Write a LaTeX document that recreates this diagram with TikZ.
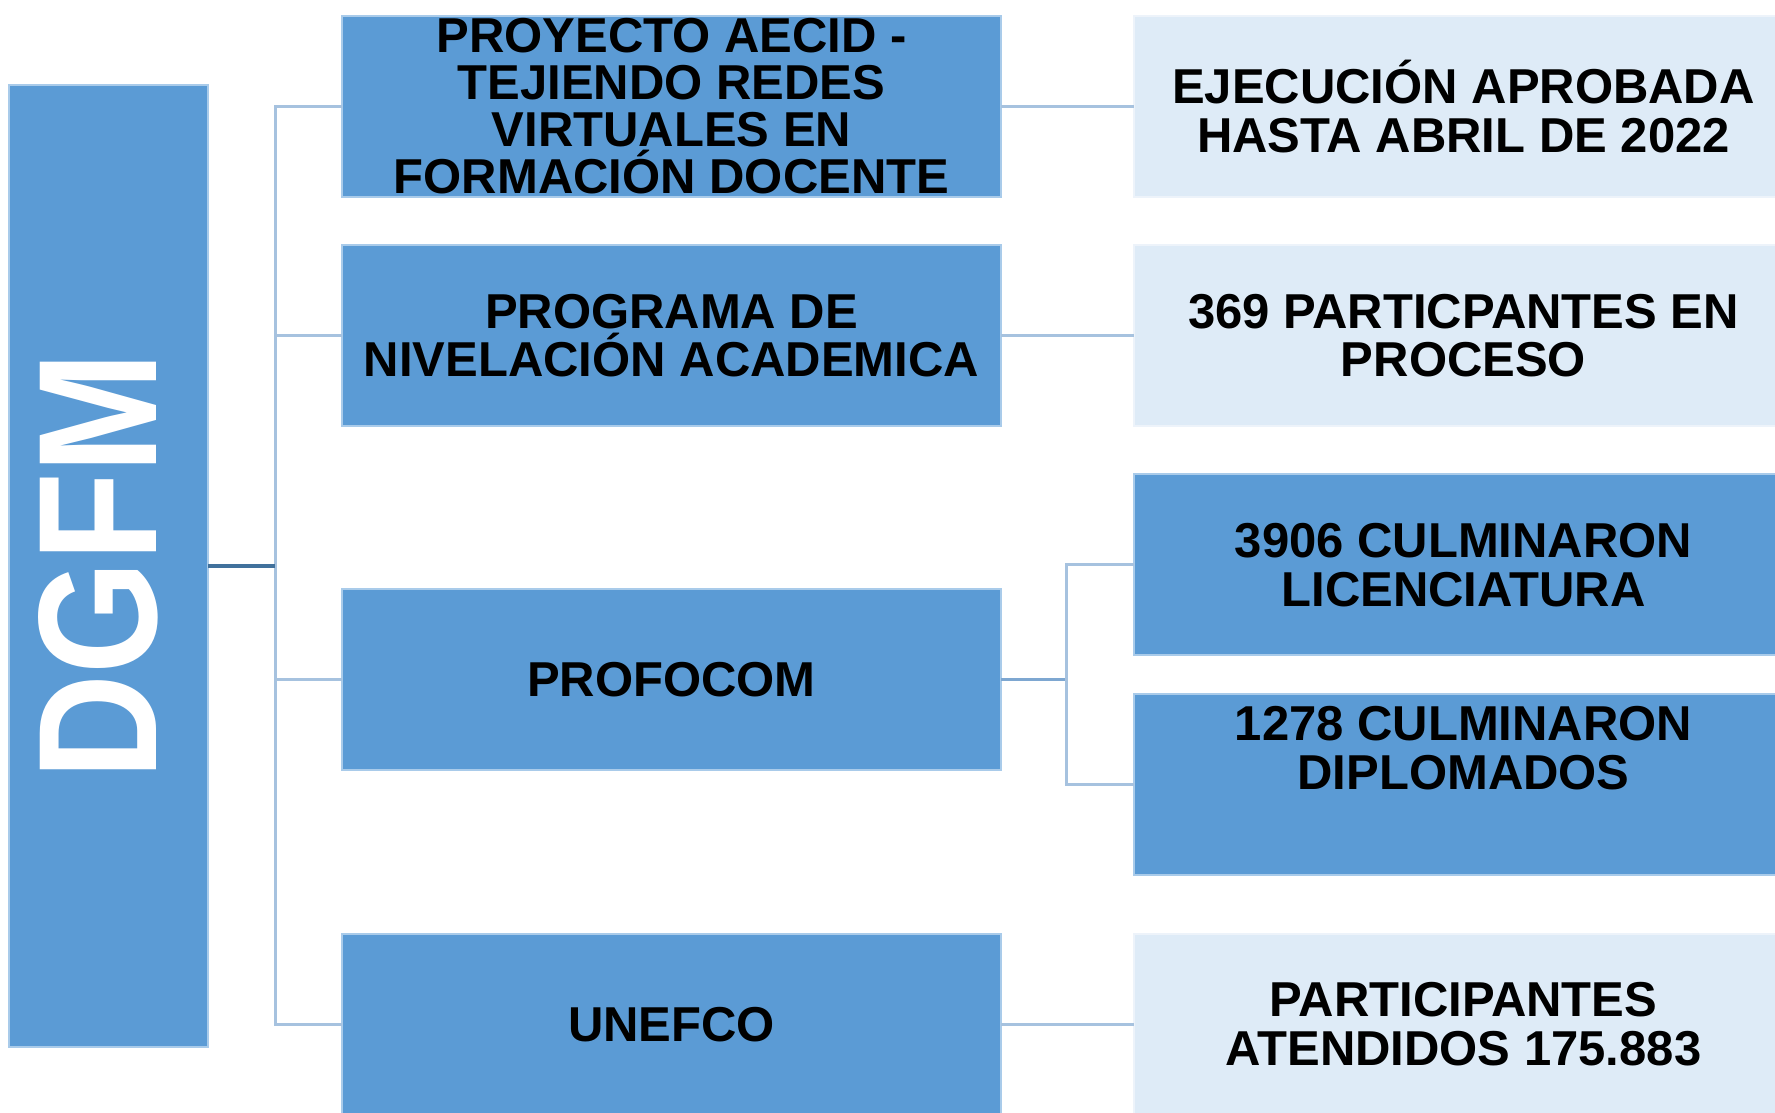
\documentclass[tikz,border=0pt]{standalone}
\usepackage{fontspec}
\setmainfont{Liberation Sans}
\newfontfamily\dgfmfont[FakeStretch=0.86]{Liberation Sans}
\definecolor{BoxBlue}{HTML}{5B9BD5}
\definecolor{PaleBlue}{HTML}{DEEBF7}
\definecolor{EdgeBlue}{HTML}{A9CBEA}
\definecolor{PaleEdge}{HTML}{EDF3FA}
\definecolor{LinkBlue}{HTML}{A6C2DF}
\definecolor{ForkBlue}{HTML}{7EA7D1}
\definecolor{RootLine}{HTML}{41719C}
\usetikzlibrary{positioning}

\begin{document}
\begin{tikzpicture}[x=1pt, y=1pt, node distance=48pt,
    every node/.style={font=\bfseries\fontsize{49}{48.7}\selectfont, outer sep=0pt},
    darkbox/.style={draw=EdgeBlue, line width=2pt, fill=BoxBlue, minimum width=659pt, minimum height=181pt, inner sep=0pt, align=center},
    palebox/.style={darkbox, draw=PaleEdge, fill=PaleBlue},
    link/.style={LinkBlue, line width=3pt}]
    \useasboundingbox (0,0) rectangle (1775,1113);
    \fill[white] (0,0) rectangle (1775,1113);
    \node[darkbox, minimum width=199pt, minimum height=962pt, text=white, font=\dgfmfont\bfseries\fontsize{169}{169}\selectfont] (dgfm) at (108.5,547) {\rotatebox{90}{DGFM}\hspace*{20pt}};
    % programas
    \node[darkbox, font=\bfseries\fontsize{49}{47}\selectfont] (p1) at (671.5,1006.5) {PROYECTO AECID -\\TEJIENDO REDES\\VIRTUALES EN\\FORMACIÓN DOCENTE};
    \node[darkbox, below=of p1] (p2) {PROGRAMA DE\\NIVELACIÓN ACADEMICA};
    \node[darkbox, below=163pt of p2] (p3) {PROFOCOM};
    \node[darkbox, below=164pt of p3] (p4) {UNEFCO};
    % resultados
    \node[palebox, right=133pt of p1] (r1) {EJECUCIÓN APROBADA\\HASTA ABRIL DE 2022};
    \node[palebox, right=133pt of p2] (r2) {369 PARTICPANTES EN\\PROCESO};
    \node[darkbox, anchor=west] (r3) at (1134,548) {3906 CULMINARON\\LICENCIATURA};
    \node[darkbox, below=39pt of r3] (r4) {1278 CULMINARON\\DIPLOMADOS\\[26pt]\mbox{}};
    \node[palebox, right=133pt of p4] (r5) {PARTICIPANTES\\ATENDIDOS 175.883};
    \coordinate (spine) at (275,0);
    \coordinate (fork) at (1066,0);
    \draw[link] (p1.west) -- (p1.west -| spine) -- (p4.west -| spine) -- (p4.west);
    \draw[link] (p2.west) -- (p2.west -| spine);
    \draw[link] (p3.west) -- (p3.west -| spine);
    \draw[RootLine, line width=4pt] (dgfm.east) -- (dgfm.east -| spine);
    \draw[link] (p1.east) -- (r1.west);
    \draw[link] (p2.east) -- (r2.west);
    \draw[link] (p4.east) -- (r5.west);
    % PROFOCOM se divide en dos
    \draw[link, ForkBlue] (p3.east) -- (p3.east -| fork);
    \draw[link] (r3.west) -- (r3.west -| fork) -- (r4.west -| fork) -- (r4.west);
\end{tikzpicture}
\end{document}
